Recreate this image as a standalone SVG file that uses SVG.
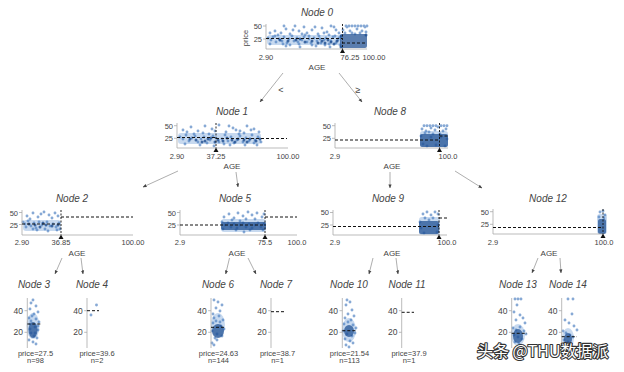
<svg xmlns="http://www.w3.org/2000/svg" width="624" height="372" viewBox="0 0 624 372">
<style>
text{font-family:"Liberation Sans",Arial,sans-serif;fill:#444}
.t{font-size:10px;font-style:italic;text-anchor:middle}
.km{font-size:7.5px;text-anchor:middle}
.ke{font-size:7.5px;text-anchor:end}
.lk{font-size:8.5px;text-anchor:end}
.ax{font-size:8px;text-anchor:middle}
.ax2{stroke:#aaa;stroke-width:.8;fill:none}
.mn{stroke:#111;stroke-width:1;stroke-dasharray:3 2;fill:none}
.sp{stroke:#111;stroke-width:.9;stroke-dasharray:2 1.5;fill:none}
.wd{fill:#111}
.d{fill:none;stroke:#3d74bb;stroke-width:2.9;stroke-linecap:round;stroke-opacity:.62}
.dk{fill:none;stroke:#1b4b8f;stroke-width:3;stroke-linecap:round;stroke-opacity:.8}
.lb{fill:#5f93d2;opacity:.35}
.db{fill:#1c4c90;opacity:.72}
.ed{stroke:#999;stroke-width:.8;fill:none;marker-end:url(#ah)}
.el{font-size:9px;text-anchor:middle}
.wm{font-family:"Noto Sans CJK SC","Liberation Sans",sans-serif;font-size:16px;fill:#fff;stroke:#333;stroke-width:2.2;paint-order:stroke;stroke-linejoin:round}
</style>
<defs>
<marker id="ah" viewBox="0 0 10 10" refX="9" refY="5" markerWidth="5" markerHeight="5" orient="auto"><path d="M0 1L10 5L0 9z" fill="#444"/></marker>
</defs>
<rect width="624" height="372" fill="#fff"/>

<g id="connectors">
<line class="ed" x1="283" y1="73" x2="260" y2="102"/>
<text class="el" x="281" y="93">&lt;</text>
<line class="ed" x1="339" y1="73" x2="362" y2="102"/>
<text class="el" x="358" y="93">≥</text>
<line class="ed" x1="178" y1="171" x2="143" y2="187"/>
<line class="ed" x1="236" y1="172" x2="238" y2="187"/>
<line class="ed" x1="390" y1="172" x2="390" y2="188"/>
<line class="ed" x1="455" y1="171" x2="482" y2="188"/>
<line class="ed" x1="62" y1="258" x2="55" y2="274"/>
<line class="ed" x1="81" y1="258" x2="83" y2="274"/>
<line class="ed" x1="229.5" y1="258" x2="225.7" y2="274"/>
<line class="ed" x1="248" y1="258" x2="256" y2="274"/>
<line class="ed" x1="373" y1="258" x2="369" y2="274"/>
<line class="ed" x1="396" y1="258" x2="398" y2="274"/>
<line class="ed" x1="538" y1="258" x2="532" y2="273"/>
<line class="ed" x1="560" y1="258" x2="561" y2="273"/>
</g>

<g id="node0">
<text class="t" x="317" y="16">Node 0</text>
<rect class="lb" x="267" y="35" width="74" height="10" rx="3"/>
<path class="d" d="M275 31h0M281 33h0M286 29h0M290 34h0M295 26h0M299 31h0M304 27h0M307 33h0M312 30h0M318 34h0M322 28h0M327 32h0M331 26h0M336 30h0M339 33h0M284 26h0M302 34h0M315 27h0M324 33h0M270 33h0M278 35h0M293 30h0M309 36h0M329 35h0M334 27h0M343 30h0M347 27h0M352 33h0M357 29h0M362 31h0M365 27h0M346 26h0M349 26h0M352 26h0M355 26h0M358 26h0M361 26h0M364 26h0M367 26h0M268 38h0M271 40h0M273 37h0M276 42h0M279 39h0M282 41h0M284 37h0M287 43h0M289 39h0M292 36h0M294 41h0M297 38h0M299 44h0M302 40h0M304 37h0M307 42h0M309 39h0M312 45h0M314 38h0M317 41h0M319 36h0M321 43h0M324 40h0M326 38h0M329 44h0M331 41h0M333 37h0M336 43h0M338 40h0M340 45h0M270 44h0M286 46h0M300 47h0M316 46h0M330 47h0M275 36h0M290 45h0M305 35h0M320 39h0M335 36h0M283 44h0M298 42h0M311 43h0M325 45h0M339 38h0M345 33h0M350 31h0M355 34h0M360 33h0M366 32h0"/>
<path class="dk" d="M322 41h0M325 43h0M328 40h0M331 42h0M334 44h0M337 41h0M318 43h0M312 41h0M305 42h0M296 40h0M280 40h0M288 41h0M300 39h0M341 36h0M341 47h0M366 35h0"/>
<rect class="db" x="340" y="34" width="27" height="14" rx="2"/>
<path class="ax2" d="M266 24V49H367M263 26H266M263 39H266"/>
<line class="mn" x1="266" y1="38.5" x2="342" y2="38.5"/>
<line class="mn" x1="342" y1="43" x2="367" y2="43"/>
<line class="sp" x1="342.5" y1="24" x2="342.5" y2="49"/>
<path class="wd" d="M342.5 48.5L340 53H345z"/>
<text class="ke" x="262" y="29">50</text>
<text class="ke" x="262" y="42">25</text>
<text class="km" transform="translate(248 38) rotate(-90)">price</text>
<text class="km" x="266" y="60">2.90</text>
<text class="km" x="350" y="60">76.25</text>
<text class="km" x="374" y="60">100.00</text>
<text class="ax" x="317" y="70">AGE</text>
</g>

<g id="node1">
<text class="t" x="232" y="115">Node 1</text>
<rect class="lb" x="178" y="133" width="83" height="11" rx="3"/>
<path class="d" d="M183 130h0M191 127h0M198 131h0M205 126h0M212 129h0M219 125h0M226 132h0M233 128h0M240 131h0M247 126h0M254 129h0M259 132h0M187 132h0M215 131h0M229 126h0M244 133h0M251 130h0M203 133h0M236 130h0M180 137h0M183 139h0M186 135h0M189 141h0M192 138h0M195 136h0M198 142h0M201 139h0M204 137h0M207 143h0M210 140h0M213 136h0M216 138h0M219 142h0M222 139h0M225 135h0M228 141h0M231 137h0M234 143h0M237 140h0M240 136h0M243 142h0M246 138h0M249 141h0M252 135h0M255 140h0M258 137h0M261 142h0M185 144h0M200 145h0M214 146h0M230 145h0M245 145h0M257 145h0M194 134h0M209 134h0M224 144h0M239 134h0M254 143h0"/>
<path class="dk" d="M190 139h0M196 140h0M205 141h0M211 138h0M218 140h0M223 141h0M232 140h0M238 139h0M244 140h0M250 139h0M256 141h0M260 139h0M227 138h0M215 142h0M202 142h0M235 142h0M247 142h0M208 139h0"/>
<path class="ax2" d="M177 123V148H288M174 125.7H177M174 138.3H177"/>
<line class="mn" x1="177" y1="137.5" x2="216" y2="137.5"/>
<line class="mn" x1="216" y1="138.5" x2="287" y2="138.5"/>
<line class="sp" x1="216" y1="123" x2="216" y2="148"/>
<path class="wd" d="M216 147.5L213.5 152H218.5z"/>
<text class="ke" x="173" y="128.5">50</text>
<text class="ke" x="173" y="141">25</text>
<text class="km" x="177" y="159">2.90</text>
<text class="km" x="216" y="159">37.25</text>
<text class="km" x="288" y="159">100.00</text>
<text class="ax" x="232" y="169">AGE</text>
</g>

<g id="node8">
<text class="t" x="390" y="115">Node 8</text>
<rect class="lb" x="420" y="131" width="28" height="16" rx="3"/>
<path class="d" d="M424 125.7h0M427 125.7h0M430 125.7h0M433 125.7h0M436 125.7h0M441 125.7h0M444 125.7h0M447 125.7h0M422 129h0M426 131h0M431 128h0M435 130h0M438 127h0M443 131h0M446 129h0M425 133h0M429 132h0M440 134h0M433 134h0M421 136h0M423 144h0M427 146h0M431 137h0M436 145h0M441 137h0M445 146h0M447 139h0"/>
<rect class="db" x="420" y="134" width="28" height="13" rx="2"/>
<path class="ax2" d="M335 123V148H448M332 125.7H335M332 138.3H335"/>
<line class="mn" x1="335" y1="140" x2="439.5" y2="140"/>
<line class="mn" x1="439.5" y1="136" x2="448" y2="136"/>
<line class="sp" x1="439.5" y1="123" x2="439.5" y2="148"/>
<path class="wd" d="M439.5 147.5L437 152H442z"/>
<text class="ke" x="331" y="128.5">50</text>
<text class="ke" x="331" y="141">25</text>
<text class="km" x="335" y="159">2.9</text>
<text class="km" x="448" y="159">100.0</text>
<text class="ax" x="392" y="169">AGE</text>
</g>

<g id="node2">
<text class="t" x="72" y="202">Node 2</text>
<rect class="lb" x="23" y="220" width="38" height="11" rx="3"/>
<path class="d" d="M27 216h0M33 213h0M38 217h0M44 212h0M49 215h0M55 213h0M58 216h0M41 214h0M52 218h0M30 219h0M23 222h0M25 224h0M28 221h0M31 226h0M34 223h0M36 228h0M39 222h0M42 225h0M45 229h0M47 222h0M50 226h0M53 224h0M56 227h0M59 223h0M60 229h0M26 227h0M37 230h0M48 231h0M57 230h0M33 229h0"/>
<path class="dk" d="M29 224h0M35 225h0M40 227h0M46 225h0M52 226h0M58 225h0M43 223h0"/>
<path class="ax2" d="M22 210V235H133M19 212.5H22M19 224.5H22"/>
<line class="mn" x1="22" y1="224" x2="61" y2="224"/>
<line class="mn" x1="61" y1="217" x2="133" y2="217"/>
<line class="sp" x1="61" y1="210" x2="61" y2="235"/>
<path class="wd" d="M61 234.5L58.5 239H63.5z"/>
<text class="ke" x="18" y="215.5">50</text>
<text class="ke" x="18" y="227.5">25</text>
<text class="km" x="22" y="245">2.90</text>
<text class="km" x="61" y="245">36.85</text>
<text class="km" x="133" y="245">100.00</text>
<text class="ax" x="77" y="256">AGE</text>
</g>

<g id="node5">
<text class="t" x="235" y="202">Node 5</text>
<rect class="lb" x="221" y="219" width="45" height="13" rx="3"/>
<path class="d" d="M224 217h0M229 214h0M234 218h0M238 213h0M243 216h0M248 212h0M252 215h0M257 213h0M262 217h0M246 219h0M232 220h0M255 219h0M240 221h0M264 214h0M222 222h0M225 225h0M228 223h0M231 227h0M234 224h0M237 228h0M240 225h0M243 223h0M246 227h0M249 224h0M252 228h0M255 225h0M258 223h0M261 227h0M264 224h0M223 229h0M236 230h0M250 230h0M263 230h0M244 232h0"/>
<rect class="db" x="221" y="222" width="45" height="8" rx="2" opacity=".65"/>
<path class="ax2" d="M180 210V235H297M177 212.5H180M177 225H180"/>
<line class="mn" x1="180" y1="225" x2="265" y2="225"/>
<line class="mn" x1="265" y1="217" x2="297" y2="217"/>
<line class="sp" x1="265" y1="210" x2="265" y2="235"/>
<path class="wd" d="M265 234.5L262.5 239H267.5z"/>
<text class="ke" x="176" y="215.5">50</text>
<text class="ke" x="176" y="228">25</text>
<text class="km" x="180" y="245">2.9</text>
<text class="km" x="265" y="245">75.5</text>
<text class="km" x="297" y="245">100.0</text>
<text class="ax" x="237" y="256">AGE</text>
</g>

<g id="node9">
<text class="t" x="388" y="202">Node 9</text>
<rect class="lb" x="419" y="217" width="21" height="18" rx="3"/>
<path class="d" d="M423 214h0M427 212h0M431 215h0M435 212h0M438 214h0M425 218h0M433 218h0M429 220h0M420 222h0M424 233h0M437 232h0M421 228h0M438 225h0"/>
<rect class="db" x="419" y="221" width="20" height="13" rx="2"/>
<path class="ax2" d="M333 210V235H447M330 212.5H333M330 225H333"/>
<line class="mn" x1="333" y1="226.5" x2="439" y2="226.5"/>
<line class="mn" x1="439" y1="218" x2="447" y2="218"/>
<line class="sp" x1="439" y1="210" x2="439" y2="235"/>
<path class="wd" d="M439 234.5L436.5 239H441.5z"/>
<text class="ke" x="329" y="215">50</text>
<text class="ke" x="329" y="228">25</text>
<text class="km" x="335" y="245">2.9</text>
<text class="km" x="447" y="245">100.0</text>
<text class="ax" x="392" y="256">AGE</text>
</g>

<g id="node12">
<text class="t" x="548" y="202">Node 12</text>
<rect class="lb" x="597" y="214" width="10" height="20" rx="3"/>
<path class="d" d="M600 212h0M603 211h0M605 215h0M599 217h0M604 218h0"/>
<rect class="db" x="598" y="219" width="8" height="15" rx="2"/>
<path class="ax2" d="M493 209V234H604M490 211.7H493M490 224.3H493"/>
<line class="mn" x1="493" y1="227.5" x2="603" y2="227.5"/>
<line class="sp" x1="603" y1="209" x2="603" y2="234"/>
<path class="wd" d="M603 233.5L600.5 238H605.5z"/>
<text class="ke" x="489" y="214.5">50</text>
<text class="ke" x="489" y="227">25</text>
<text class="km" x="493" y="245">2.9</text>
<text class="km" x="604" y="245">100.0</text>
<text class="ax" x="549" y="256">AGE</text>
</g>

<g id="node3">
<text class="t" x="34" y="288">Node 3</text>
<ellipse class="lb" cx="33" cy="326" rx="6.5" ry="13"/>
<path class="d" d="M33 300h0M31 303h0M36 306h0M30 309h0M38 312h0M34 314h0M29 318h0M32 316h0M36 319h0M39 322h0M30 324h0M35 327h0M38 330h0M31 333h0M34 336h0M37 338h0M29 340h0M33 342h0M36 344h0M31 321h0M38 326h0M30 329h0M35 333h0"/>
<ellipse class="db" cx="33" cy="330" rx="4.5" ry="8" opacity=".6"/>
<path class="ax2" d="M27.3 298V348M24.5 310.7H27.3M24.5 332.3H27.3"/>
<line class="mn" x1="27.3" y1="324" x2="41" y2="324"/>
<text class="lk" x="23" y="313.7">40</text>
<text class="lk" x="23" y="335.3">20</text>
<text class="km" x="35.5" y="355.5">price=27.5</text>
<text class="km" x="35.5" y="363">n=98</text>
</g>

<g id="node4">
<text class="t" x="92" y="288">Node 4</text>
<path class="d" d="M96.5 305h0M91 315h0"/>
<path class="ax2" d="M87 298V348M84.2 310.7H87M84.2 332.3H87"/>
<line class="mn" x1="87" y1="310.7" x2="99" y2="310.7"/>
<text class="lk" x="82.7" y="313.7">40</text>
<text class="lk" x="82.7" y="335.3">20</text>
<text class="km" x="97" y="355.5">price=39.6</text>
<text class="km" x="97" y="363">n=2</text>
</g>

<g id="node6">
<text class="t" x="218" y="288">Node 6</text>
<ellipse class="lb" cx="218" cy="325" rx="7" ry="12"/>
<path class="d" d="M214 300h0M218 302h0M222 305h0M216 308h0M220 311h0M213 314h0M217 340h0M214 345h0M212 343h0M214 318h0M219 316h0M223 320h0M213 323h0M216 321h0M221 326h0M224 329h0M212 331h0M217 334h0M222 336h0M215 338h0M220 322h0"/>
<ellipse class="db" cx="218" cy="331" rx="6" ry="7"/>
<path class="ax2" d="M211 298V348M208.2 310.7H211M208.2 332.3H211"/>
<line class="mn" x1="211" y1="327.3" x2="226" y2="327.3"/>
<text class="lk" x="206.7" y="313.7">40</text>
<text class="lk" x="206.7" y="335.3">20</text>
<text class="km" x="218.5" y="355.5">price=24.63</text>
<text class="km" x="218.5" y="363">n=144</text>
</g>

<g id="node7">
<text class="t" x="276" y="288">Node 7</text>
<path class="ax2" d="M271 298V348M268.2 310.7H271M268.2 332.3H271"/>
<line class="mn" x1="271" y1="311.7" x2="284" y2="311.7"/>
<text class="lk" x="266.7" y="313.7">40</text>
<text class="lk" x="266.7" y="335.3">20</text>
<text class="km" x="277.5" y="355.5">price=38.7</text>
<text class="km" x="277.5" y="363">n=1</text>
</g>

<g id="node10">
<text class="t" x="349" y="288">Node 10</text>
<ellipse class="lb" cx="349" cy="330" rx="7" ry="12"/>
<path class="d" d="M347 300h0M350 302h0M346 305h0M352 310h0M348 314h0M345 318h0M351 320h0M354 316h0M344 324h0M348 322h0M353 325h0M356 328h0M343 331h0M347 334h0M352 336h0M355 333h0M345 339h0M350 341h0M346 345h0M349 347h0M353 343h0"/>
<ellipse class="db" cx="349" cy="331" rx="5" ry="6"/>
<path class="ax2" d="M342.3 298V348M339.5 310.7H342.3M339.5 332.3H342.3"/>
<line class="mn" x1="342.3" y1="330.7" x2="357" y2="330.7"/>
<text class="lk" x="338" y="313.7">40</text>
<text class="lk" x="338" y="335.3">20</text>
<text class="km" x="349.5" y="355.5">price=21.54</text>
<text class="km" x="349.5" y="363">n=113</text>
</g>

<g id="node11">
<text class="t" x="407" y="288">Node 11</text>
<path class="ax2" d="M401.7 298V348M398.9 310.7H401.7M398.9 332.3H401.7"/>
<line class="mn" x1="401.7" y1="312.3" x2="414" y2="312.3"/>
<text class="lk" x="397.4" y="313.7">40</text>
<text class="lk" x="397.4" y="335.3">20</text>
<text class="km" x="409" y="355.5">price=37.9</text>
<text class="km" x="409" y="363">n=1</text>
</g>

<g id="node13">
<text class="t" x="518" y="288">Node 13</text>
<ellipse class="lb" cx="518" cy="335" rx="7" ry="11"/>
<path class="d" d="M515 299h0M518 299h0M521 299h0M517 305h0M514 312h0M520 315h0M523 318h0M516 320h0M525 323h0M513 328h0M516 330h0M520 327h0M524 331h0M514 335h0M518 337h0M522 339h0M526 334h0M515 342h0M519 344h0M523 346h0M517 349h0"/>
<ellipse class="db" cx="518" cy="336" rx="5" ry="7" opacity=".6"/>
<path class="ax2" d="M511.7 298V348M508.9 310.7H511.7M508.9 332.3H511.7"/>
<line class="mn" x1="511.7" y1="333.3" x2="527" y2="333.3"/>
<text class="lk" x="507.4" y="313.7">40</text>
<text class="lk" x="507.4" y="335.3">20</text>
</g>

<g id="node14">
<text class="t" x="568" y="288">Node 14</text>
<ellipse class="lb" cx="568" cy="338" rx="6" ry="10"/>
<path class="d" d="M568 299h0M573 299h0M572 314h0M565 320h0M569 323h0M574 326h0M577 330h0M563 331h0M566 333h0M570 335h0M573 337h0M564 340h0M568 342h0M571 344h0M565 346h0M569 348h0"/>
<ellipse class="db" cx="568" cy="339" rx="4" ry="6" opacity=".6"/>
<path class="ax2" d="M561.7 298V348M558.9 310.7H561.7M558.9 332.3H561.7"/>
<line class="mn" x1="561.7" y1="336.7" x2="577" y2="336.7"/>
<text class="lk" x="557.4" y="313.7">40</text>
<text class="lk" x="557.4" y="335.3">20</text>
</g>

<text class="wm" x="477" y="357">头条 @THU数据派</text>
</svg>
